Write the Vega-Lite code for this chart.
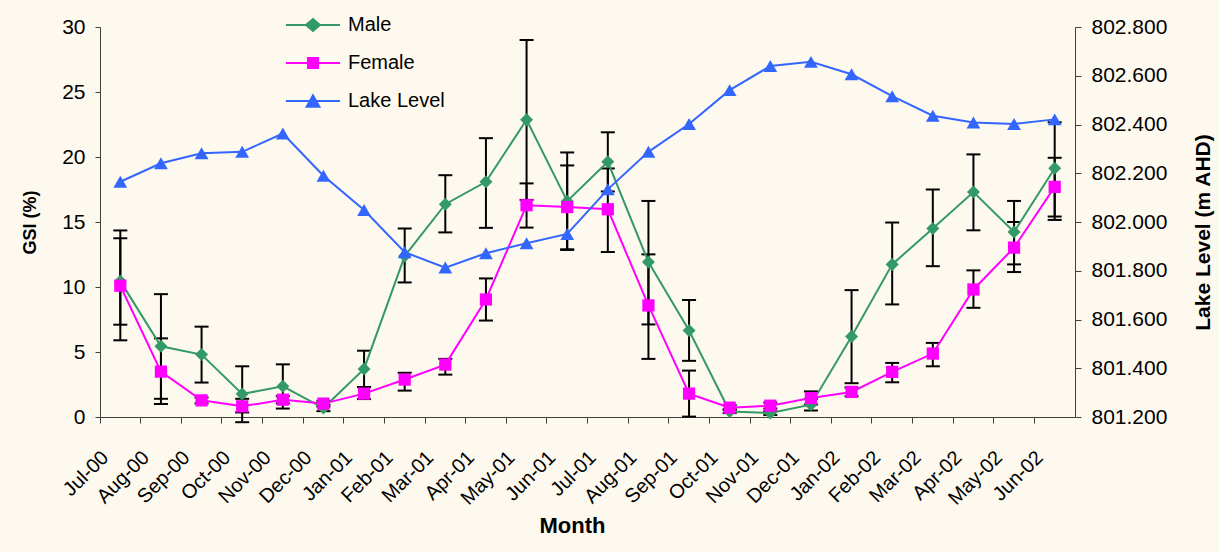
{
  "$schema": "https://vega.github.io/schema/vega-lite/v6.json",
  "width": 975,
  "height": 390,
  "autosize": {"type": "none"},
  "padding": {"left": 100, "top": 27, "right": 144, "bottom": 135},
  "background": "#FDF9EF",
  "config": {
    "view": {"stroke": null},
    "font": "Liberation Sans",
    "axis": {
      "grid": false,
      "domainColor": "#404040",
      "tickColor": "#404040",
      "labelColor": "#000000",
      "labelFont": "Liberation Sans",
      "labelFontSize": 21,
      "titleFont": "Liberation Sans",
      "titleFontWeight": "bold",
      "titleColor": "#000000",
      "tickSize": 6,
      "domainWidth": 1,
      "tickWidth": 1
    }
  },
  "datasets": {
    "gsi": [
      {"month": "Jul-00", "series": "Male", "gsi": 10.45, "lo": 7.1, "hi": 13.75},
      {"month": "Aug-00", "series": "Male", "gsi": 5.44, "lo": 1.4, "hi": 9.45},
      {"month": "Sep-00", "series": "Male", "gsi": 4.8, "lo": 2.65, "hi": 6.95},
      {"month": "Oct-00", "series": "Male", "gsi": 1.77, "lo": -0.4, "hi": 3.9},
      {"month": "Nov-00", "series": "Male", "gsi": 2.36, "lo": 0.65, "hi": 4.05},
      {"month": "Dec-00", "series": "Male", "gsi": 0.69, "lo": 0.45, "hi": 0.95},
      {"month": "Jan-01", "series": "Male", "gsi": 3.7, "lo": 2.3, "hi": 5.1},
      {"month": "Feb-01", "series": "Male", "gsi": 12.38, "lo": 10.35, "hi": 14.5},
      {"month": "Mar-01", "series": "Male", "gsi": 16.37, "lo": 14.2, "hi": 18.6},
      {"month": "Apr-01", "series": "Male", "gsi": 18.09, "lo": 14.55, "hi": 21.45},
      {"month": "May-01", "series": "Male", "gsi": 22.87, "lo": 16.7, "hi": 29.0},
      {"month": "Jun-01", "series": "Male", "gsi": 16.6, "lo": 12.9, "hi": 20.35},
      {"month": "Jul-01", "series": "Male", "gsi": 19.63, "lo": 17.35, "hi": 21.9},
      {"month": "Aug-01", "series": "Male", "gsi": 11.92, "lo": 7.12, "hi": 16.62},
      {"month": "Sep-01", "series": "Male", "gsi": 6.65, "lo": 4.32, "hi": 9.0},
      {"month": "Oct-01", "series": "Male", "gsi": 0.43, "lo": 0.3, "hi": 0.6},
      {"month": "Nov-01", "series": "Male", "gsi": 0.3, "lo": 0.15, "hi": 0.45},
      {"month": "Dec-01", "series": "Male", "gsi": 0.95, "lo": 0.5, "hi": 1.4},
      {"month": "Jan-02", "series": "Male", "gsi": 6.19, "lo": 2.6, "hi": 9.76},
      {"month": "Feb-02", "series": "Male", "gsi": 11.74, "lo": 8.66, "hi": 14.96},
      {"month": "Mar-02", "series": "Male", "gsi": 14.5, "lo": 11.6, "hi": 17.5},
      {"month": "Apr-02", "series": "Male", "gsi": 17.3, "lo": 14.36, "hi": 20.2},
      {"month": "May-02", "series": "Male", "gsi": 14.23, "lo": 11.74, "hi": 16.62},
      {"month": "Jun-02", "series": "Male", "gsi": 19.14, "lo": 15.42, "hi": 22.67},
      {"month": "Jul-00", "series": "Female", "gsi": 10.1, "lo": 5.9, "hi": 14.35},
      {"month": "Aug-00", "series": "Female", "gsi": 3.49, "lo": 1.0, "hi": 6.05},
      {"month": "Sep-00", "series": "Female", "gsi": 1.28, "lo": 1.05, "hi": 1.5},
      {"month": "Oct-00", "series": "Female", "gsi": 0.82, "lo": 0.35, "hi": 1.4},
      {"month": "Nov-00", "series": "Female", "gsi": 1.33, "lo": 1.05, "hi": 1.6},
      {"month": "Dec-00", "series": "Female", "gsi": 1.03, "lo": 0.8, "hi": 1.25},
      {"month": "Jan-01", "series": "Female", "gsi": 1.8, "lo": 1.38, "hi": 2.3},
      {"month": "Feb-01", "series": "Female", "gsi": 2.88, "lo": 2.03, "hi": 3.4},
      {"month": "Mar-01", "series": "Female", "gsi": 4.03, "lo": 3.26, "hi": 4.47},
      {"month": "Apr-01", "series": "Female", "gsi": 9.04, "lo": 7.42, "hi": 10.66},
      {"month": "May-01", "series": "Female", "gsi": 16.29, "lo": 14.57, "hi": 17.97},
      {"month": "Jun-01", "series": "Female", "gsi": 16.15, "lo": 12.85, "hi": 19.35},
      {"month": "Jul-01", "series": "Female", "gsi": 15.98, "lo": 12.69, "hi": 19.12},
      {"month": "Aug-01", "series": "Female", "gsi": 8.58, "lo": 4.47, "hi": 12.51},
      {"month": "Sep-01", "series": "Female", "gsi": 1.8, "lo": 0.03, "hi": 3.57},
      {"month": "Oct-01", "series": "Female", "gsi": 0.72, "lo": 0.55, "hi": 0.9},
      {"month": "Nov-01", "series": "Female", "gsi": 0.87, "lo": 0.65, "hi": 1.1},
      {"month": "Dec-01", "series": "Female", "gsi": 1.46, "lo": 0.96, "hi": 1.97},
      {"month": "Jan-02", "series": "Female", "gsi": 1.93, "lo": 1.59, "hi": 2.27},
      {"month": "Feb-02", "series": "Female", "gsi": 3.47, "lo": 2.67, "hi": 4.16},
      {"month": "Mar-02", "series": "Female", "gsi": 4.88, "lo": 3.9, "hi": 5.7},
      {"month": "Apr-02", "series": "Female", "gsi": 9.81, "lo": 8.4, "hi": 11.28},
      {"month": "May-02", "series": "Female", "gsi": 13.03, "lo": 11.15, "hi": 15.0},
      {"month": "Jun-02", "series": "Female", "gsi": 17.7, "lo": 15.16, "hi": 19.94}
    ],
    "lake": [
      {"month": "Jul-00", "series": "Lake Level", "level": 802.165},
      {"month": "Aug-00", "series": "Lake Level", "level": 802.241},
      {"month": "Sep-00", "series": "Lake Level", "level": 802.282},
      {"month": "Oct-00", "series": "Lake Level", "level": 802.288},
      {"month": "Nov-00", "series": "Lake Level", "level": 802.363},
      {"month": "Dec-00", "series": "Lake Level", "level": 802.19},
      {"month": "Jan-01", "series": "Lake Level", "level": 802.049},
      {"month": "Feb-01", "series": "Lake Level", "level": 801.876},
      {"month": "Mar-01", "series": "Lake Level", "level": 801.813},
      {"month": "Apr-01", "series": "Lake Level", "level": 801.872},
      {"month": "May-01", "series": "Lake Level", "level": 801.913},
      {"month": "Jun-01", "series": "Lake Level", "level": 801.951},
      {"month": "Jul-01", "series": "Lake Level", "level": 802.134},
      {"month": "Aug-01", "series": "Lake Level", "level": 802.288},
      {"month": "Sep-01", "series": "Lake Level", "level": 802.402},
      {"month": "Oct-01", "series": "Lake Level", "level": 802.541},
      {"month": "Nov-01", "series": "Lake Level", "level": 802.64},
      {"month": "Dec-01", "series": "Lake Level", "level": 802.657},
      {"month": "Jan-02", "series": "Lake Level", "level": 802.606},
      {"month": "Feb-02", "series": "Lake Level", "level": 802.516},
      {"month": "Mar-02", "series": "Lake Level", "level": 802.436},
      {"month": "Apr-02", "series": "Lake Level", "level": 802.408},
      {"month": "May-02", "series": "Lake Level", "level": 802.402},
      {"month": "Jun-02", "series": "Lake Level", "level": 802.421}
    ]
  },
  "encoding": {
    "x": {
      "field": "month",
      "type": "ordinal",
      "sort": null,
      "scale": {"type": "band", "paddingInner": 0, "paddingOuter": 0},
      "axis": {
        "title": "Month",
        "bandPosition": 0,
        "labelAngle": -45,
        "labelFontSize": 20,
        "labelPadding": 24,
        "labelOffset": -22,
        "titleFontSize": 22,
        "titleX": 472,
        "titleY": 108,
        "titleBaseline": "middle",
        "titleAlign": "center"
      }
    }
  },
  "layer": [
    {
      "data": {"name": "gsi"},
      "layer": [
        {
          "mark": {"type": "rule", "color": "#000000", "strokeWidth": 2},
          "encoding": {
            "y": {
              "field": "lo",
              "type": "quantitative",
              "scale": {"domain": [0, 30], "nice": false, "zero": false},
              "axis": {
                "title": "GSI (%)",
                "values": [0, 5, 10, 15, 20, 25, 30],
                "titleFontSize": 18,
                "titleX": -70,
                "titleY": 195,
                "titleAngle": -90,
                "titleBaseline": "middle",
                "titleAlign": "center",
                "labelPadding": 10,
                "tickSize": 5
              }
            },
            "y2": {"field": "hi"}
          }
        },
        {
          "mark": {"type": "tick", "color": "#000000", "size": 14, "thickness": 2, "opacity": 1},
          "encoding": {"y": {"field": "lo", "type": "quantitative"}}
        },
        {
          "mark": {"type": "tick", "color": "#000000", "size": 14, "thickness": 2, "opacity": 1},
          "encoding": {"y": {"field": "hi", "type": "quantitative"}}
        },
        {
          "mark": {"type": "line", "strokeWidth": 2},
          "encoding": {
            "y": {"field": "gsi", "type": "quantitative"},
            "color": {
              "field": "series",
              "type": "nominal",
              "scale": {"domain": ["Male", "Female", "Lake Level"], "range": ["#339966", "#FF00FF", "#3366FF"]},
              "legend": {
                "orient": "none",
                "legendX": 203,
                "legendY": -12,
                "title": null,
                "padding": 0,
                "symbolSize": 196,
                "symbolOpacity": 1,
                "symbolStrokeWidth": 0,
                "labelFontSize": 20,
                "labelFont": "Liberation Sans",
                "labelColor": "#000000",
                "labelOffset": 25,
                "rowPadding": 18
              }
            }
          }
        },
        {
          "transform": [{"filter": "false"}],
          "mark": {"type": "point", "filled": true, "size": 196, "opacity": 1},
          "encoding": {
            "y": {"field": "gsi", "type": "quantitative"},
            "color": {"field": "series", "type": "nominal"},
            "shape": {
              "field": "series",
              "type": "nominal",
              "scale": {
                "domain": ["Male", "Female", "Lake Level"],
                "range": [
                  "M-3.86,-0.143L-1.05,-0.143L0,-1.05L1.05,-0.143L3.86,-0.143L3.86,0.143L1.05,0.143L0,1.05L-1.05,0.143L-3.86,0.143Z",
                  "M-3.86,-0.143L-0.86,-0.143L-0.86,-0.86L0.86,-0.86L0.86,-0.143L3.86,-0.143L3.86,0.143L0.86,0.143L0.86,0.86L-0.86,0.86L-0.86,0.143L-3.86,0.143Z",
                  "M-3.86,-0.143L3.86,-0.143L3.86,0.143L-3.86,0.143Z M0,-1.1L1.15,0.95L-1.15,0.95Z"
                ]
              },
              "legend": null
            }
          }
        },
        {
          "transform": [{"filter": "datum.series === 'Male'"}],
          "mark": {"type": "point", "filled": true, "size": 170, "opacity": 1, "shape": "diamond"},
          "encoding": {
            "y": {"field": "gsi", "type": "quantitative"},
            "color": {"field": "series", "type": "nominal"}
          }
        },
        {
          "transform": [{"filter": "datum.series === 'Female'"}],
          "mark": {"type": "point", "filled": true, "size": 150, "opacity": 1, "shape": "square"},
          "encoding": {
            "y": {"field": "gsi", "type": "quantitative"},
            "color": {"field": "series", "type": "nominal"}
          }
        }
      ]
    },
    {
      "data": {"name": "lake"},
      "layer": [
        {
          "mark": {"type": "line", "strokeWidth": 2},
          "encoding": {
            "y": {
              "field": "level",
              "type": "quantitative",
              "scale": {"domain": [801.2, 802.8], "nice": false, "zero": false},
              "axis": {
                "orient": "right",
                "title": "Lake Level (m AHD)",
                "values": [801.2, 801.4, 801.6, 801.8, 802.0, 802.2, 802.4, 802.6, 802.8],
                "format": ".3f",
                "titleFontSize": 21,
                "titleX": 128,
                "titleY": 205,
                "titleAngle": -90,
                "titleBaseline": "middle",
                "titleAlign": "center",
                "labelPadding": 10
              }
            },
            "color": {"field": "series", "type": "nominal"}
          }
        },
        {
          "mark": {"type": "point", "filled": true, "size": 190, "opacity": 1, "shape": "triangle-up"},
          "encoding": {
            "y": {"field": "level", "type": "quantitative"},
            "color": {"field": "series", "type": "nominal"}
          }
        }
      ]
    }
  ],
  "resolve": {"scale": {"y": "independent"}}
}
